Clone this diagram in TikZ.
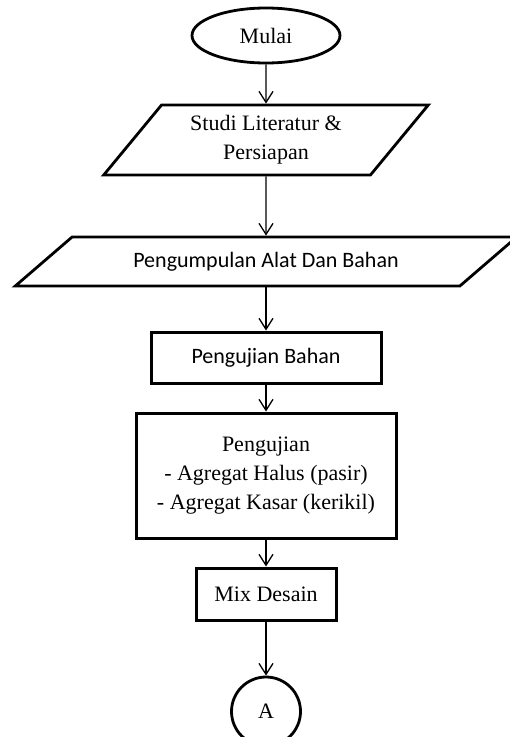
\documentclass[tikz,border=0pt]{standalone}
\usepackage{fontspec}
\setmainfont{Liberation Serif}
\newfontfamily\calibri{Carlito}
\usepackage{tikz}
\usetikzlibrary{shapes.geometric,arrows.meta,positioning}

\begin{document}
\begin{tikzpicture}[
    x=1pt, y=-1pt,
    every node/.style={font=\fontsize{22}{29}\selectfont},
    term/.style={ellipse, draw, line width=2.8pt, inner sep=0pt},
    io/.style={trapezium, draw, line width=2.8pt, trapezium stretches=true,
        align=center, inner sep=0pt},
    proc/.style={rectangle, draw, line width=3pt, align=center, inner sep=0pt},
    sans/.style={font=\calibri\fontsize{22}{29}\selectfont},
    edge/.style={-{Straight Barb[length=11pt, width=14pt, line width=1.3pt]},
        line width=1.3pt}
]
    \useasboundingbox (0,0) rectangle (510,737);

    \node[term, minimum width=148pt, minimum height=55pt] (mulai) at (266,35.5) {Mulai};
    \node[io, minimum width=325pt, minimum height=70pt,
        trapezium left angle=49.4, trapezium right angle=130.6] (studi) at (266,140)
        {Studi Literatur \&\\Persiapan};
    \node[io, sans, minimum width=504pt, minimum height=49pt,
        trapezium left angle=26.1, trapezium right angle=153.9] (alat) at (266,261.5)
        {Pengumpulan Alat Dan Bahan};
    \node[proc, sans, minimum width=230pt, minimum height=51pt] (bahan) at (266,357.5)
        {Pengujian Bahan};
    \node[proc, minimum width=260pt, minimum height=125pt] (uji) at (266,475.5)
        {Pengujian\\- Agregat Halus (pasir)\\- Agregat Kasar (kerikil)};
    \node[proc, minimum width=140pt, minimum height=52pt] (mix) at (266,594) {Mix Desain};
    \node[term, circle, minimum size=69pt] (konA) at (266,711.5) {A};

    \draw[edge] (mulai) -- (studi);
    \draw[edge] (studi) -- (alat);
    \draw[edge] (alat) -- (bahan);
    \draw[edge] (bahan) -- (uji);
    \draw[edge] (uji) -- (mix);
    \draw[edge] (mix) -- (konA);
\end{tikzpicture}
\end{document}
